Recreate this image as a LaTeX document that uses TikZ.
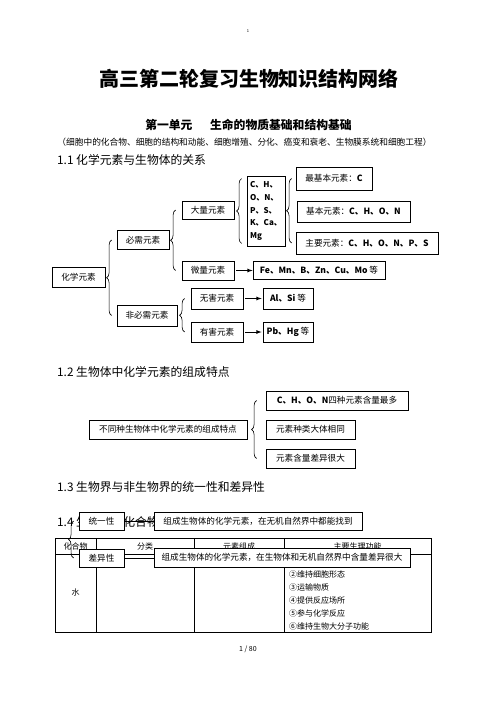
\documentclass[tikz,border=0pt]{standalone}
\usepackage{fontspec}
\setmainfont{Noto Sans CJK SC}
\usetikzlibrary{arrows,positioning,decorations.pathreplacing}

\tikzset{
    kuang/.style={draw,line width=0.8pt,fill=white,inner sep=0pt,minimum height=19pt,font=\fontsize{8.6}{10}\selectfont},
    kuohao/.style={decorate,decoration={brace,amplitude=5pt},line width=0.6pt},
    jiantou/.style={-latex,line width=0.8pt},
    biaoti/.style={anchor=west,inner sep=0pt,font=\fontsize{11.8}{14}\selectfont},
    biaoge/.style={inner sep=0pt,font=\fontsize{8}{9}\selectfont}
}

\begin{document}
\begin{tikzpicture}[x=1pt,y=-1pt]
        \useasboundingbox (0,0) rectangle (496,702);
        \node[inner sep=0pt,font=\fontsize{4}{4}\selectfont] (yemei) at (248,31) {1};
        \node[inner sep=0pt,font=\fontsize{20}{24}\selectfont\bfseries] (zongti) at (249,79) {高三第二轮复习生物知识结构网络};
        \node[inner sep=0pt,font=\fontsize{11.8}{14}\selectfont\bfseries] (danyuan) at (248.5,125) {第一单元\hspace{1.5em}生命的物质基础和结构基础};
        \node[inner sep=0pt,font=\fontsize{8.7}{10}\selectfont] (kuohaoshuoming) at (244.5,142) {（细胞中的化合物、细胞的结构和动能、细胞增殖、分化、癌变和衰老、生物膜系统和细胞工程）};

        \node[biaoti] (h11) at (57,160) {1.1 化学元素与生物体的关系};
        \node[kuang,minimum width=53pt,minimum height=20pt] (huaxue) at (78.5,277) {化学元素};
        \node[kuang,minimum width=52pt] (bixu) at (143,240) {必需元素};
        \node[kuang,minimum width=60pt,minimum height=21pt] (feibixu) at (147,315.5) {非必需元素};
        \node[kuang,minimum width=52pt,minimum height=18pt] (daliang) at (208,210) {大量元素};
        \node[kuang,minimum width=52pt] (weiliang) at (208,270.5) {微量元素};
        \node[kuang,minimum width=38pt,minimum height=70pt,align=left,font=\fontsize{8}{12.7}\selectfont\bfseries] (cbox) at (266,211) {C、H、\\O、N、\\P、S、\\K、Ca、\\Mg};
        \node[kuang,minimum width=76pt,minimum height=23pt] (zuijiben) at (334,178.5) {最基本元素：\textbf{C}};
        \node[kuang,minimum width=113pt,minimum height=21pt] (jiben) at (353.5,211.5) {基本元素：\textbf{C、H、O、N}};
        \node[kuang,minimum width=142pt,minimum height=22pt] (zhuyao) at (367,243) {主要元素：\textbf{C、H、O、N、P、S}};
        \node[kuang,minimum width=132pt,minimum height=18pt] (fe) at (319,270.5) {\textbf{Fe、Mn、B、Zn、Cu、Mo} 等};
        \node[kuang,minimum width=52pt,minimum height=21pt] (wuhai) at (217,298.5) {无害元素};
        \node[kuang,minimum width=52pt,minimum height=20pt] (youhai) at (217,332) {有害元素};
        \node[kuang,minimum width=50pt,minimum height=21pt] (alsi) at (288,298.5) {\textbf{Al、Si} 等};
        \node[kuang,minimum width=50pt,minimum height=20pt] (pbhg) at (288,332) {\textbf{Pb、Hg} 等};
        \draw[kuohao] ([xshift=-5pt]feibixu.west) -- ([xshift=-5pt]bixu.west);
        \draw[kuohao] ([xshift=-6pt]weiliang.west) -- ([xshift=-6pt]daliang.west);
        \draw[kuohao] ([xshift=-5pt,yshift=3pt]cbox.south west) -- ([xshift=-5pt,yshift=-3pt]cbox.north west);
        \draw[kuohao] ([xshift=-4pt]zhuyao.west) -- ([xshift=-4pt]zuijiben.west);
        \draw[kuohao] ([xshift=-6pt]youhai.west) -- ([xshift=-6pt]wuhai.west);
        \draw[jiantou] ([xshift=2pt]weiliang.east) -- (fe.west);
        \draw[jiantou] ([xshift=2pt]wuhai.east) -- ([xshift=-1pt]alsi.west);
        \draw[jiantou] ([xshift=2pt]youhai.east) -- ([xshift=-1pt]pbhg.west);

        \node[biaoti] (h12) at (57,372) {1.2 生物体中化学元素的组成特点};
        \node[kuang,minimum width=158pt] (tezheng) at (168,429.5) {不同种生物体中化学元素的组成特点};
        \node[kuang,minimum width=142pt] (zuiduo) at (337,400.5) {\textbf{C、H、O、N}四种元素含量最多};
        \node[kuang,minimum width=89pt] (xiangtong) at (310.5,429.5) {元素种类大体相同};
        \node[kuang,minimum width=89pt] (henda) at (310.5,458.5) {元素含量差异很大};
        \draw[kuohao] ([xshift=-9pt]henda.west) -- ([xshift=-9pt]zuiduo.west);

        \node[biaoti] (h13) at (57,487) {1.3 生物界与非生物界的统一性和差异性};
        \node[biaoti] (h14) at (57,522) {1.4 生物体的化合物};
        \draw[line width=0.8pt] (55,538) rectangle (431,632);
        \draw[line width=0.8pt] (55,554) -- (431,554);
        \draw[line width=0.8pt] (96,538) -- (96,632);
        \draw[line width=0.8pt] (194,538) -- (194,632);
        \draw[line width=0.8pt] (284,538) -- (284,632);
        \node[biaoge] (lie1) at (75.5,546) {化合物};
        \node[biaoge] (lie2) at (145,546) {分类};
        \node[biaoge] (lie3) at (239,546) {元素组成};
        \node[biaoge] (lie4) at (357.5,546) {主要生理功能};
        \node[biaoge] (shui) at (75.5,592) {水};
        \node[biaoge,anchor=west] (gn2) at (289,574) {②维持细胞形态};
        \node[biaoge,anchor=west] (gn3) at (289,587) {③运输物质};
        \node[biaoge,anchor=west] (gn4) at (289,600) {④提供反应场所};
        \node[biaoge,anchor=west] (gn5) at (289,613) {⑤参与化学反应};
        \node[biaoge,anchor=west] (gn6) at (289,626) {⑥维持生物大分子功能};
        \node[kuang,minimum width=45pt,minimum height=18pt] (tongyi) at (101.5,521) {统一性};
        \node[kuang,minimum width=45pt,minimum height=18pt] (chayi) at (101.5,558) {差异性};
        \draw[line width=0.8pt] (tongyi) -- (258,521);
        \draw[line width=0.8pt] (chayi) -- (282,558);
        \node[kuang,minimum width=208pt,minimum height=18pt] (tongyishuoming) at (258,521) {组成生物体的化学元素，在无机自然界中都能找到};
        \node[kuang,minimum width=256pt] (chayishuoming) at (282,557.5) {组成生物体的化学元素，在生物体和无机自然界中含量差异很大};
        \draw[kuohao] ([xshift=-5pt]chayi.west) -- ([xshift=-5pt]tongyi.west);

        \node[inner sep=0pt,font=\fontsize{7}{8}\selectfont] (yema) at (248,649) {1 / 80};
\end{tikzpicture}
\end{document}
